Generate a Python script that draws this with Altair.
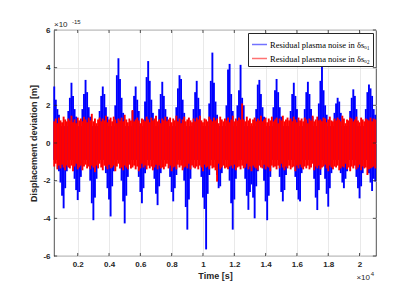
import altair as alt
import pandas as pd

# ---- data (displacement in units of 1e-15 m, time bins of 100 s starting at 500 s) ----
t_start = 500
t_step = 100

blue_upper = [
    3.0, 2.3, 1.8, 1.5, 0.9, 0.9, 0.9, 0.9, 0.9, 1.7,
    2.4, 3.2, 2.5, 1.8, 1.4, 0.9, 0.9, 0.9, 1.8, 2.6,
    3.35, 2.7, 1.9, 1.4, 0.9, 0.9, 0.9, 0.9, 0.9, 1.7,
    2.5, 3.0, 2.6, 1.9, 1.4, 0.9, 0.9, 0.9, 0.9, 2.0,
    3.6, 4.5, 3.4, 2.4, 1.6, 0.9, 0.9, 0.9, 0.9, 0.9,
    1.7, 2.5, 3.0, 2.3, 1.7, 0.9, 0.9, 0.9, 2.2, 3.5,
    4.35, 3.3, 2.3, 1.6, 0.9, 0.9, 0.9, 1.8, 2.6, 3.25,
    2.5, 1.8, 1.4, 0.9, 0.9, 0.9, 0.9, 0.9, 1.9, 2.9,
    3.6, 3.4, 2.3, 1.6, 0.9, 0.9, 0.9, 0.9, 0.9, 1.8,
    2.7, 3.3, 2.4, 1.8, 0.9, 0.9, 0.9, 0.9, 0.9, 2.1,
    3.3, 4.8, 3.2, 2.2, 1.5, 0.9, 0.9, 0.9, 0.9, 0.9,
    2.0, 3.9, 4.2, 2.6, 1.7, 0.9, 0.9, 2.0, 2.8, 4.15,
    2.4, 2.0, 0.9, 0.9, 0.9, 0.9, 0.9, 0.9, 0.9, 1.8,
    3.1, 3.35, 2.6, 1.9, 1.4, 0.9, 0.9, 0.9, 0.9, 0.9,
    1.9, 2.8, 3.4, 2.7, 1.9, 1.4, 0.9, 0.9, 0.9, 0.9,
    0.9, 1.7, 2.6, 3.2, 2.5, 1.8, 0.9, 0.9, 0.9, 0.9,
    1.8, 2.7, 3.25, 2.6, 1.8, 1.4, 0.9, 0.9, 0.9, 2.1,
    3.3, 4.1, 2.8, 2.0, 1.5, 0.9, 0.9, 0.9, 0.9, 1.6,
    2.1, 2.4, 2.2, 1.6, 0.9, 0.9, 0.9, 0.9, 0.9, 1.7,
    2.4, 2.85, 2.5, 1.8, 0.9, 0.9, 0.9, 0.9, 0.9, 1.8,
    2.7, 3.1, 2.9, 2.5, 1.8, 1.5,
]

blue_lower = [
    -0.9, -0.9, -0.9, -1.5, -2.1, -2.8, -3.47, -2.4, -1.5, -0.9,
    -0.9, -0.9, -0.9, -1.9, -2.5, -3.03, -2.6, -1.8, -0.9, -0.9,
    -0.9, -0.9, -0.9, -2.0, -3.2, -4.1, -2.9, -1.9, -0.9, -0.9,
    -0.9, -0.9, -0.9, -1.6, -2.4, -3.0, -3.9, -2.3, -1.5, -0.9,
    -0.9, -0.9, -0.9, -2.0, -3.1, -4.27, -2.8, -1.8, -0.9, -0.9,
    -0.9, -0.9, -0.9, -0.9, -1.8, -2.6, -3.2, -2.4, -1.6, -0.9,
    -0.9, -0.9, -0.9, -0.9, -1.9, -2.7, -3.3, -2.3, -1.6, -0.9,
    -0.9, -0.9, -0.9, -0.9, -1.8, -2.6, -3.1, -2.4, -1.7, -0.9,
    -0.9, -0.9, -0.9, -2.0, -3.4, -4.6, -3.0, -1.9, -0.9, -0.9,
    -0.9, -0.9, -0.9, -0.9, -1.8, -2.9, -3.5, -5.65, -2.7, -1.7,
    -0.9, -0.9, -0.9, -0.9, -1.7, -2.4, -2.3, -1.6, -0.9, -0.9,
    -0.9, -0.9, -2.0, -3.2, -4.6, -3.0, -1.9, -0.9, -0.9, -0.9,
    -0.9, -0.9, -1.9, -2.8, -3.55, -2.6, -2.2, -2.9, -4.0, -2.3,
    -1.5, -0.9, -0.9, -0.9, -2.0, -3.1, -4.1, -2.8, -1.8, -0.9,
    -0.9, -0.9, -0.9, -0.9, -1.8, -2.6, -3.1, -2.5, -1.7, -0.9,
    -0.9, -0.9, -0.9, -0.9, -1.8, -2.5, -3.0, -3.1, -1.6, -0.9,
    -0.9, -0.9, -0.9, -0.9, -0.9, -0.9, -1.9, -2.9, -3.56, -2.5,
    -1.7, -0.9, -0.9, -1.9, -2.7, -3.38, -2.4, -1.6, -0.9, -0.9,
    -0.9, -0.9, -0.9, -1.6, -2.1, -2.4, -1.9, -1.5, -0.9, -0.9,
    -0.9, -0.9, -0.9, -1.8, -2.4, -2.94, -2.3, -1.6, -0.9, -0.9,
    -0.9, -1.6, -2.1, -2.55, -1.9, -2.05,
]

red_upper = [
    1.15, 1.3, 1.05, 1.35, 1.2, 1.1, 1.4, 1.25, 1.15, 1.3,
    1.2, 1.45, 1.1, 1.25, 1.05, 1.35, 1.2, 1.3, 1.15, 1.4,
    1.25, 1.1, 1.35, 1.2, 1.55, 1.15, 1.3, 1.05, 1.25, 1.35,
    1.15, 1.3, 1.2, 1.45, 1.1, 1.25, 1.35, 1.15, 1.4, 1.25,
    1.05, 1.3, 1.2, 1.35, 1.15, 1.5, 1.25, 1.1, 1.3, 1.2,
    1.75, 1.15, 1.25, 1.35, 1.2, 1.05, 1.3, 1.25, 1.15, 1.4,
    1.25, 1.1, 1.35, 1.2, 1.3, 1.45, 1.15, 1.25, 1.05, 1.3,
    1.2, 1.4, 1.15, 1.25, 1.35, 1.1, 1.3, 1.2, 1.45, 1.15,
    1.3, 1.05, 1.25, 1.4, 1.15, 1.25, 1.35, 1.2, 1.1, 1.3,
    1.15, 1.35, 1.25, 1.45, 1.2, 1.1, 1.3, 1.25, 1.15, 1.4,
    1.25, 1.15, 1.35, 1.2, 1.3, 1.05, 1.4, 1.25, 1.15, 1.3,
    1.2, 1.35, 1.1, 1.25, 1.45, 1.15, 1.3, 1.2, 1.35, 1.25,
    2.1, 1.25, 1.15, 1.4, 1.2, 1.3, 1.05, 1.25, 1.35, 1.15,
    1.3, 1.2, 1.45, 1.15, 1.25, 1.35, 1.1, 1.3, 1.2, 1.4,
    1.15, 1.25, 1.35, 1.05, 1.3, 1.2, 1.45, 1.15, 1.25, 1.35,
    1.2, 1.3, 1.15, 1.4, 1.25, 1.1, 1.35, 1.2, 1.3, 1.15,
    1.35, 1.25, 1.05, 1.3, 1.2, 1.45, 1.15, 1.25, 1.4, 1.2,
    1.25, 1.15, 1.35, 1.3, 1.1, 1.25, 1.4, 1.2, 1.15, 1.3,
    1.2, 1.35, 1.25, 1.15, 1.45, 1.3, 1.05, 1.25, 1.2, 1.35,
    1.3, 1.15, 1.25, 1.4, 1.2, 1.1, 1.35, 1.25, 1.15, 1.3,
    1.25, 1.2, 1.35, 1.15, 1.3, 1.25,
]

red_lower = [
    -1.25, -1.1, -1.4, -1.2, -1.35, -1.15, -1.3, -1.45, -1.2, -1.3,
    -1.35, -1.2, -1.5, -1.25, -1.1, -1.4, -1.3, -1.2, -1.45, -1.25,
    -1.15, -1.35, -1.25, -1.4, -1.2, -1.3, -1.55, -1.2, -1.35, -1.1,
    -1.3, -1.45, -1.2, -1.25, -1.4, -1.15, -1.35, -1.3, -1.2, -1.5,
    -1.25, -1.1, -1.35, -1.3, -1.45, -1.2, -1.3, -1.4, -1.15, -1.35,
    -1.3, -1.2, -1.4, -1.25, -1.5, -1.35, -1.1, -1.3, -1.2, -1.4,
    -1.2, -1.35, -1.25, -1.45, -1.3, -1.15, -1.4, -1.2, -1.35, -1.3,
    -1.4, -1.25, -1.1, -1.35, -1.2, -1.5, -1.3, -1.25, -1.4, -1.15,
    -1.3, -1.2, -1.45, -1.3, -1.25, -1.35, -1.1, -1.4, -1.2, -1.3,
    -1.35, -1.25, -1.4, -1.2, -1.3, -1.5, -1.15, -1.3, -1.25, -1.4,
    -1.2, -1.35, -1.3, -1.45, -2.05, -1.1, -1.4, -1.3, -1.2, -1.35,
    -1.3, -1.4, -1.25, -1.2, -1.35, -1.15, -1.45, -1.3, -1.25, -1.4,
    -1.2, -1.35, -1.3, -1.1, -1.4, -1.25, -1.5, -1.2, -1.3, -1.35,
    -1.45, -1.2, -1.3, -1.35, -1.15, -1.4, -1.25, -1.3, -1.5, -1.2,
    -1.3, -1.25, -1.4, -1.2, -1.35, -1.1, -1.3, -1.45, -1.25, -1.35,
    -1.2, -1.4, -1.3, -1.25, -1.5, -1.2, -1.35, -1.15, -1.3, -1.4,
    -1.25, -1.35, -1.2, -1.4, -1.3, -1.1, -1.45, -1.25, -1.35, -1.2,
    -1.4, -1.3, -1.25, -1.15, -1.35, -1.5, -1.2, -1.3, -1.4, -1.25,
    -1.3, -1.2, -1.45, -1.35, -1.25, -1.3, -1.1, -1.4, -1.3, -1.5,
    -1.25, -1.35, -1.2, -1.4, -1.3, -1.15, -1.45, -1.25, -1.35, -1.3,
    -1.7, -1.4, -1.35, -1.3, -1.25, -1.35,
]

x_ticks = [0.2, 0.4, 0.6, 0.8, 1.0, 1.2, 1.4, 1.6, 1.8, 2.0]
y_ticks = [-6, -4, -2, 0, 2, 4, 6]
x_domain = [0.0485, 2.105]
y_domain = [-6, 6]
series_names = ["Residual plasma noise in δsₒ₁", "Residual plasma noise in δsₒ₂"]
series_colors = ["#0000ff", "#ff0000"]

# ---- build table ----
rows = []
for name, lows, highs in [(series_names[0], blue_lower, blue_upper),
                          (series_names[1], red_lower, red_upper)]:
    for i, (lo, hi) in enumerate(zip(lows, highs)):
        rows.append({"t": (t_start + t_step * i) / 1e4, "lo": lo, "hi": hi, "s": name})
df = pd.DataFrame(rows)

xs = alt.Scale(domain=x_domain, nice=False, zero=False)
ys = alt.Scale(domain=y_domain, nice=False, zero=False)
AX = "#262626"
FONT = "Liberation Sans"

x_axis = alt.Axis(values=x_ticks, format="~g", title="Time [s]",
                  grid=True, ticks=False, domain=False,
                  labelOverlap=False, labelFlush=False,
                  labelPadding=4, titlePadding=3)
y_axis = alt.Axis(values=y_ticks, labelExpr="'' + datum.value",
                  title="Displacement deviation [m]",
                  grid=True, ticks=False, domain=False,
                  labelOverlap=False, labelFlush=False,
                  labelPadding=4, titlePadding=4)

noise = alt.Chart(df).mark_rule(strokeWidth=1.9).encode(
    x=alt.X("t:Q", scale=xs, axis=x_axis),
    y=alt.Y("lo:Q", scale=ys, axis=y_axis),
    y2="hi:Q",
    color=alt.Color("s:N", scale=alt.Scale(domain=series_names, range=series_colors),
                    legend=alt.Legend(title=None, orient="top-right", offset=3,
                                      symbolType="stroke", symbolStrokeWidth=1.5,
                                      symbolSize=225, symbolOpacity=0.55,
                                      labelFont="Liberation Serif", labelFontSize=8.5,
                                      labelColor="black", labelLimit=400, labelOffset=2,
                                      strokeColor=AX, fillColor="white", padding=3,
                                      rowPadding=1, cornerRadius=0)),
)

# inward tick marks on all four sides (MATLAB style)
tick_rows = []
for v in x_ticks:
    tick_rows.append({"x": v, "x2": v, "y": -6, "y2": -5.84})
    tick_rows.append({"x": v, "x2": v, "y": 6, "y2": 5.84})
for v in y_ticks:
    tick_rows.append({"x": x_domain[0], "x2": x_domain[0] + 0.02, "y": v, "y2": v})
    tick_rows.append({"x": x_domain[1], "x2": x_domain[1] - 0.02, "y": v, "y2": v})
ticks = alt.Chart(pd.DataFrame(tick_rows)).mark_rule(color=AX, strokeWidth=0.8).encode(
    x=alt.X("x:Q", scale=xs, axis=x_axis), x2="x2:Q",
    y=alt.Y("y:Q", scale=ys, axis=y_axis), y2="y2:Q")

# exponent annotations
def note(xv, yv, txt, align, size, dx, dy):
    return alt.Chart().mark_text(align=align, baseline="middle", font=FONT, fontSize=size,
                                 color=AX, dx=dx, dy=dy).encode(
        x=alt.X(datum=xv, scale=xs, axis=x_axis),
        y=alt.Y(datum=yv, scale=ys, axis=y_axis), text=alt.value(txt))

base_y = note(x_domain[0], y_domain[1], "×10", "left", 8, 0, -5)
exp_y = note(x_domain[0], y_domain[1], "-15", "left", 6, 18, -8)
base_x = note(x_domain[1], y_domain[0], "×10", "right", 8, -6, 22)
exp_x = note(x_domain[1], y_domain[0], "4", "right", 6, -2, 18)

chart = alt.layer(noise, ticks, base_y, exp_y, base_x, exp_x).properties(
    width=322, height=226,
    autosize=alt.AutoSizeParams(type="none"),
    padding={"left": 46, "top": 22, "right": 29, "bottom": 37},
).configure_view(stroke=AX, strokeWidth=0.8).configure_axis(
    gridColor="#e3e3e3", gridWidth=0.8, gridOpacity=1, labelOverlap=False,
    labelFont=FONT, labelFontSize=8, labelFontWeight="bold", labelColor=AX,
    titleFont=FONT, titleFontSize=9, titleFontWeight="bold", titleColor=AX,
)

chart.save("out.html", embed_options={"renderer": "svg", "actions": False})
